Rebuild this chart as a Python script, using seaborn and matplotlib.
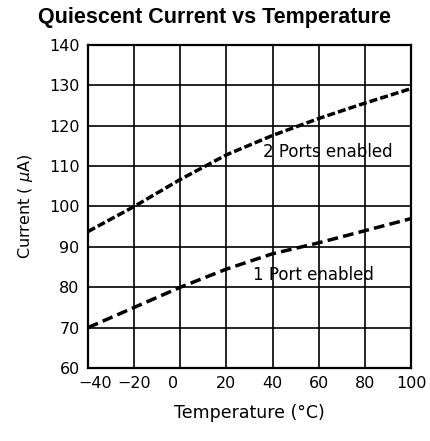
import numpy as np
import pandas as pd
import matplotlib
matplotlib.use("Agg")
import matplotlib.pyplot as plt
import matplotlib.transforms as mtransforms
import seaborn as sns

# data
temperature = [-40, -20, 0, 20, 40, 60, 80, 100]
current_2ports = [93.8, 100.0, 106.7, 112.8, 117.6, 121.8, 125.6, 129.2]
current_1port = [70.0, 75.0, 80.0, 84.5, 88.3, 91.0, 94.0, 97.0]
series_names = ["2 Ports enabled", "1 Port enabled"]

x_ticks = [-40, -20, 0, 20, 40, 60, 80, 100]
x_tick_labels = ["\u221240", "\u221220", "0", "20", "40", "60", "80", "100"]
y_ticks = [60, 70, 80, 90, 100, 110, 120, 130, 140]

df = pd.DataFrame({
    "Temperature": temperature * 2,
    "Current": current_2ports + current_1port,
    "Mode": [series_names[0]] * len(temperature) + [series_names[1]] * len(temperature),
})

sns.set_style("white")
plt.rcParams["font.family"] = ["DejaVu Sans"]
plt.rcParams["text.color"] = "black"
plt.rcParams["axes.labelcolor"] = "black"
plt.rcParams["xtick.color"] = "black"
plt.rcParams["ytick.color"] = "black"

fig = plt.figure(figsize=(4.30, 4.41), dpi=100)
ax = fig.add_axes([88 / 430, 1 - 368 / 441, 323 / 430, 323 / 441])

sns.lineplot(data=df, x="Temperature", y="Current", style="Mode",
             dashes={series_names[0]: (2.3, 0.9), series_names[1]: (3.1, 1.5)},
             color="black", linewidth=2.5, legend=False, ax=ax)

ax.set_xlim(-40, 100)
ax.set_ylim(60, 140)
ax.set_xticks(x_ticks)
ax.set_yticks(y_ticks)
ax.set_xticklabels(x_tick_labels)
ax.grid(True, color="black", linewidth=1.2)
ax.set_axisbelow(True)
for s in ax.spines.values():
    s.set_color("black")
    s.set_linewidth(1.6)
ax.tick_params(axis="both", length=0, labelsize=11.5, pad=6)

# the -40 and 0 labels sit a little off their ticks in the original
xlabels = ax.get_xticklabels()
xlabels[0].set_transform(xlabels[0].get_transform() +
                         mtransforms.ScaledTranslation(0.07, 0, fig.dpi_scale_trans))
xlabels[2].set_transform(xlabels[2].get_transform() +
                         mtransforms.ScaledTranslation(-0.07, 0, fig.dpi_scale_trans))

ax.text(35.8, 113.5, series_names[0], fontsize=12, va="center", ha="left")
ax.text(31.5, 83.0, series_names[1], fontsize=12, va="center", ha="left")

ax.set_xlabel("Temperature (\u00b0C)", fontsize=12.5, labelpad=9)
ax.set_ylabel("Current ( $\\mu$A)", fontsize=11.5, labelpad=10)
fig.suptitle("Quiescent Current vs Temperature", fontsize=15.5, fontweight="bold",
             family=["Liberation Sans", "DejaVu Sans"],
             x=214 / 430, y=1 - 18 / 441, va="center")

fig.savefig("out.png", dpi=100)
